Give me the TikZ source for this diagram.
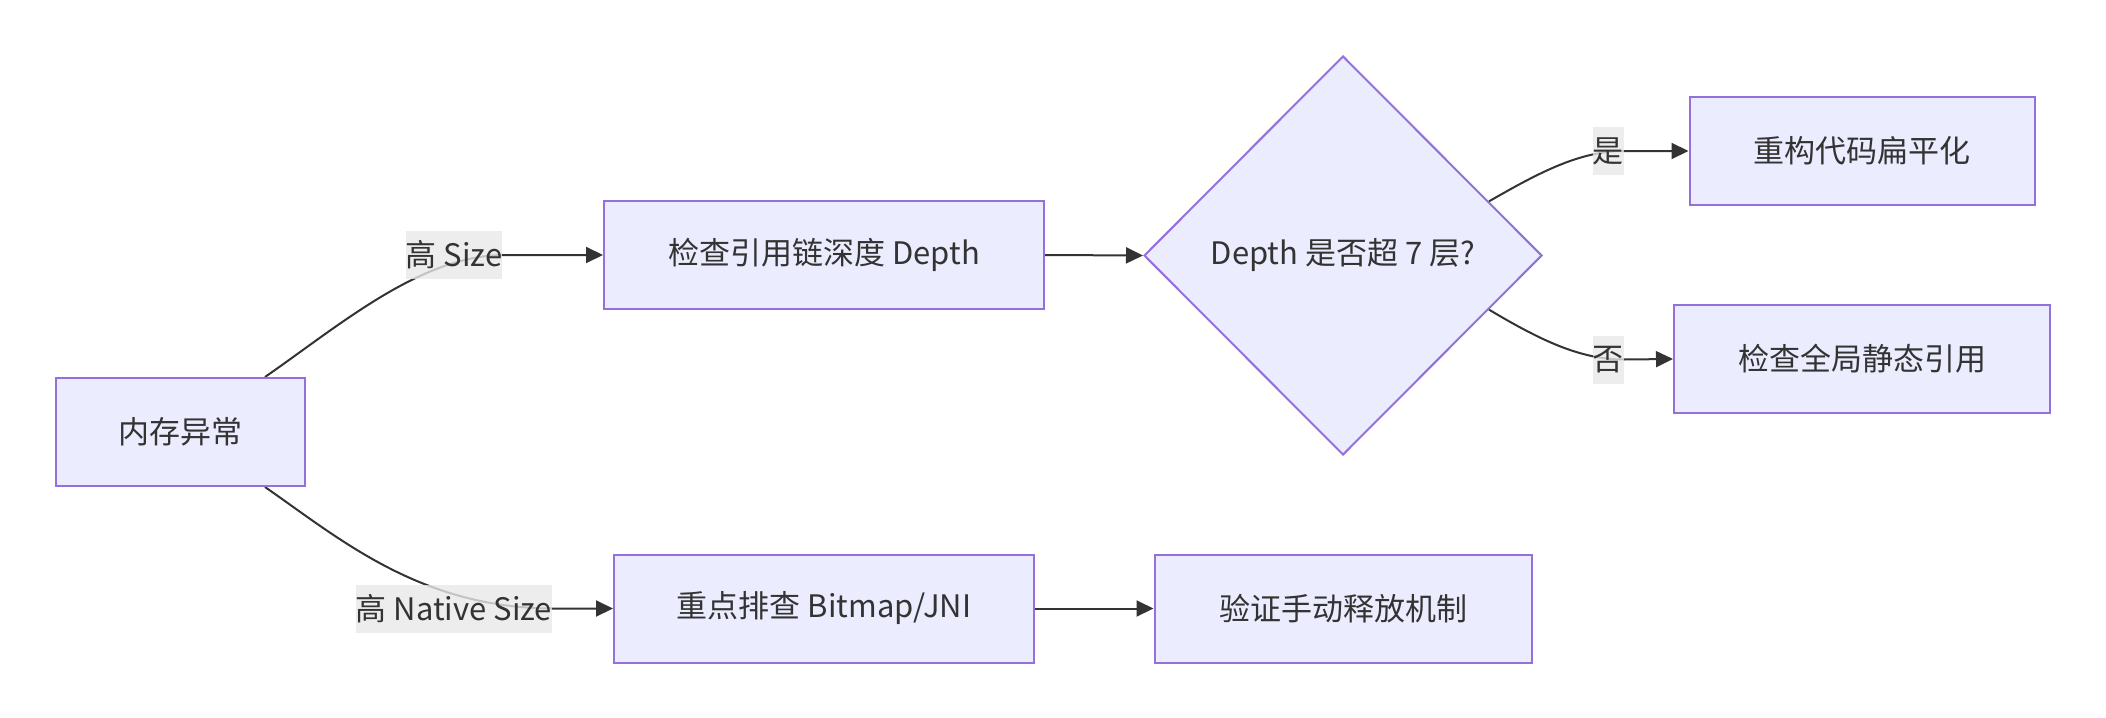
\documentclass[tikz,border=0pt]{standalone}
\usepackage{fontspec}
\setmainfont{Noto Sans CJK SC}
\usetikzlibrary{shapes.geometric,arrows.meta,calc}
\definecolor{nodefill}{HTML}{ECECFF}
\definecolor{nodeline}{HTML}{9370DB}
\definecolor{edgecol}{HTML}{333333}
\definecolor{lblbg}{HTML}{E8E8E8}
\pgfdeclarelayer{edgelayer}
\pgfsetlayers{edgelayer,main}
\begin{document}
\begin{tikzpicture}[x=0.5pt,y=-0.5pt,
  txt/.style={text=edgecol, font=\fontsize{15.5pt}{18pt}\selectfont},
  box/.style={txt, draw=nodeline, fill=nodefill, line width=1pt, minimum height=54pt, inner sep=0pt},
  dia/.style={txt, diamond, draw=nodeline, fill=nodefill, line width=1pt, minimum width=199pt, minimum height=199.5pt, inner sep=0pt},
  edge/.style={draw=edgecol, line width=1pt, -{Triangle[length=8.5pt,width=8pt]}},
  lbl/.style={txt, fill=lblbg, fill opacity=0.8, text opacity=1, inner xsep=0pt, inner ysep=0pt, minimum height=24pt}
]
\useasboundingbox (0,0) rectangle (2106,718);

\node[box, minimum width=124.5pt] (A) at (180,432) {内存异常};
\node[box, minimum width=220pt] (B) at (824,255) {检查引用链深度 Depth};
\node[box, minimum width=210pt] (C) at (824,608.5) {重点排查 Bitmap/JNI};
\node[dia] (Dm) at (1343,255.5) {Depth 是否超 7 层?};
\node[box, minimum width=172.5pt] (D) at (1862,151) {重构代码扁平化};
\node[box, minimum width=188pt] (E) at (1862,359) {检查全局静态引用};
\node[box, minimum width=188.5pt] (F) at (1343,608.5) {验证手动释放机制};

\node[lbl] (L1) at (454,255) {高 Size};
\node[lbl] (L2) at (454,608.5) {高 Native Size};
\node[lbl] (L3) at (1608,151) {是};
\node[lbl] (L4) at (1608,359.5) {否};

\begin{pgfonlayer}{edgelayer}
\draw[edge] ($(A.north)+(85,0)$) .. controls (340,325) and (420,256) .. (L1.east) -- (B.west);
\draw[edge] ($(A.south)+(85,0)$) .. controls (340,539) and (420,608) .. (L2.east) -- (C.west);
\draw[edge] (B.east) -- (Dm.west);
\draw[edge] (C.east) -- (F.west);
\draw[edge] ($(Dm.east)!0.27!(Dm.north)$) .. controls (1540,172) and (1580,151) .. (L3.east) -- (D.west);
\draw[edge] ($(Dm.east)!0.27!(Dm.south)$) .. controls (1540,340) and (1580,359.5) .. (L4.east) -- (E.west);
\end{pgfonlayer}
\end{tikzpicture}
\end{document}
